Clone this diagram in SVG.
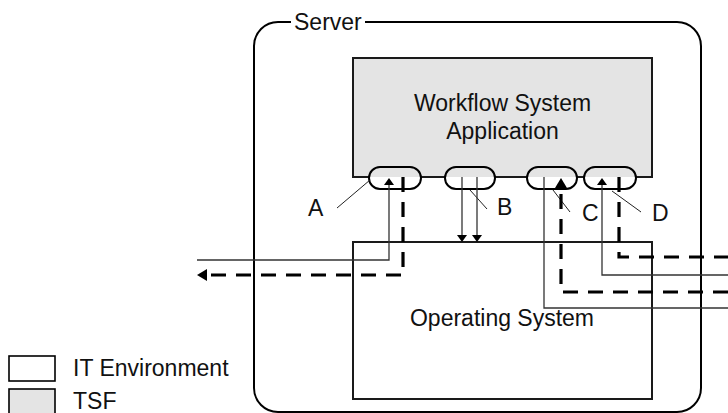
<svg xmlns="http://www.w3.org/2000/svg" width="728" height="413" viewBox="0 0 728 413">
  <style>
    .lbl { font-family: "Liberation Sans", Arial, sans-serif; font-size: 23px; fill: #111; }
    .mid { text-anchor: middle; }
    .box { stroke: #1a1a1a; stroke-width: 2; }
    .thin { fill: none; stroke: #333; stroke-width: 1.3; }
    .dash { fill: none; stroke: #000; stroke-width: 3.2; stroke-dasharray: 15 10; }
    .port { fill: none; stroke: #000; stroke-width: 2; }
    .lead { fill: none; stroke: #222; stroke-width: 1; }
  </style>
  <defs>
    <marker id="tri" markerUnits="userSpaceOnUse" markerWidth="8" markerHeight="10" refX="0" refY="5" orient="auto">
      <path d="M0,0 L7,5 L0,10 Z" fill="#000"/>
    </marker>
    <marker id="triBig" markerUnits="userSpaceOnUse" markerWidth="11" markerHeight="12" refX="0" refY="6" orient="auto">
      <path d="M0,0 L10,6 L0,12 Z" fill="#000"/>
    </marker>
  </defs>
  <rect width="728" height="413" fill="#fff"/>

  <!-- server enclosure with its title set into the top edge -->
  <g id="server">
    <path d="M291,22 H278 A24,24 0 0 0 254,46 V388 A24,24 0 0 0 278,412 H677 A24,24 0 0 0 701,388 V46 A24,24 0 0 0 677,22 H365" fill="none" stroke="#000" stroke-width="2"/>
    <text class="lbl" x="294" y="30">Server</text>
  </g>

  <!-- application (TSF) -->
  <g id="workflow">
    <rect x="353" y="58" width="299" height="119" fill="#e4e4e4"/>
    <path class="box" fill="none" d="M369,177 H353 V58 H652 V177 H636 M584,177 H577 M527,177 H495 M445,177 H421"/>
    <text class="lbl mid" x="502.5" y="111">Workflow System</text>
    <text class="lbl mid" x="502.5" y="139">Application</text>
  </g>

  <!-- operating system (IT environment) -->
  <g id="os">
    <rect class="box" x="353" y="242" width="299" height="157" fill="none"/>
    <text class="lbl mid" x="502" y="326">Operating System</text>
  </g>

  <!-- interface ports on the application boundary -->
  <g id="port-a">
    <rect class="port" x="369" y="167" width="52" height="22" rx="11"/>
    <line class="lead" x1="337" y1="208" x2="370" y2="180"/>
    <text class="lbl" x="308" y="216">A</text>
  </g>
  <g id="port-b">
    <rect class="port" x="445" y="167" width="50" height="22" rx="11"/>
    <line class="lead" x1="470" y1="190" x2="487" y2="209"/>
    <text class="lbl" x="497" y="215">B</text>
  </g>
  <g id="port-c">
    <rect class="port" x="527" y="167" width="50" height="22" rx="11"/>
    <line class="lead" x1="553" y1="190" x2="570" y2="212"/>
    <text class="lbl" x="582" y="221">C</text>
  </g>
  <g id="port-d">
    <rect class="port" x="584" y="167" width="52" height="22" rx="11"/>
    <line class="lead" x1="612" y1="191" x2="641" y2="212"/>
    <text class="lbl" x="652" y="221">D</text>
  </g>

  <!-- data flows -->
  <g id="connectors">
    <!-- A: inbound and outbound external traffic -->
    <path class="thin" d="M197,260 H389 V185" marker-end="url(#tri)"/>
    <path class="dash" d="M403,177 V275 H207" marker-end="url(#triBig)"/>
    <!-- B: calls down into the operating system -->
    <path class="thin" d="M462,177 V235" marker-end="url(#tri)"/>
    <path class="thin" d="M477,177 V235" marker-end="url(#tri)"/>
    <!-- C -->
    <path class="thin" d="M544,177 V308 H728"/>
    <path class="dash" d="M728,292 H561 V188" marker-end="url(#triBig)"/>
    <!-- D -->
    <path class="thin" d="M728,275 H602 V185" marker-end="url(#tri)"/>
    <path class="dash" d="M619,177 V257 H728"/>
  </g>

  <!-- legend -->
  <g id="legend">
    <rect x="9" y="356" width="46" height="25" fill="#fff" stroke="#000" stroke-width="1.6"/>
    <text class="lbl" x="73" y="376">IT Environment</text>
    <rect x="9" y="389" width="46" height="30" fill="#e4e4e4" stroke="#000" stroke-width="1.6"/>
    <text class="lbl" x="73" y="409">TSF</text>
  </g>
</svg>
